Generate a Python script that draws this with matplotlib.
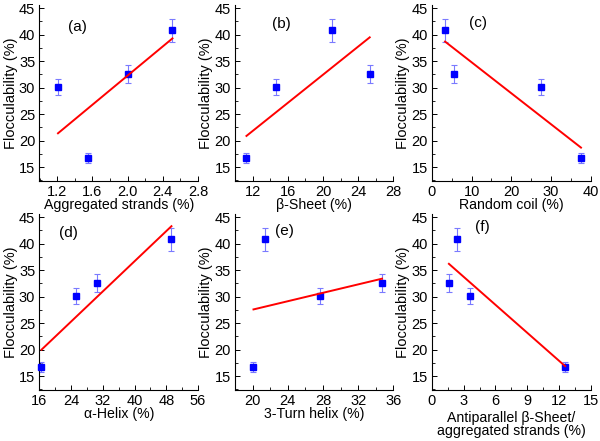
import matplotlib
matplotlib.use("Agg")
import matplotlib.pyplot as plt
from matplotlib.ticker import MultipleLocator, AutoMinorLocator

plt.rcParams['font.family'] = ['Liberation Sans', 'DejaVu Sans']

# flocculability of the four samples and its error
floc = [40.8, 32.6, 30.1, 16.7]
floc_err = [2.1, 1.7, 1.45, 0.9]

# secondary structure content (%) of the same four samples
aggregated = [2.51, 2.01, 1.21, 1.55]
beta_sheet = [21.0, 25.3, 14.7, 11.3]
random_coil = [3.3, 5.6, 27.6, 37.6]
alpha_helix = [49.3, 30.6, 25.1, 16.4]
turn_helix = [21.4, 34.7, 27.7, 20.1]
antiparallel = [2.4, 1.6, 3.6, 12.6]

# fitted lines as drawn: x range and y at both ends
fit_a = ([1.21, 2.51], [21.4, 39.3])
fit_b = ([11.3, 25.3], [20.9, 39.5])
fit_c = ([3.3, 37.6], [38.7, 18.7])
fit_d = ([16.5, 49.3], [20.0, 43.3])
fit_e = ([20.1, 34.7], [27.6, 33.4])
fit_f = ([1.6, 12.6], [36.2, 16.9])

panels = [
    ('(a)', aggregated, fit_a, 'Aggregated strands (%)', (1.0, 2.8), 0.4, (0.237, 0.875)),
    ('(b)', beta_sheet, fit_b, 'β-Sheet (%)', (10, 28), 4, (0.295, 0.892)),
    ('(c)', random_coil, fit_c, 'Random coil (%)', (0, 40), 10, (0.29, 0.898)),
    ('(d)', alpha_helix, fit_d, 'α-Helix (%)', (16, 56), 8, (0.18, 0.892)),
    ('(e)', turn_helix, fit_e, '3-Turn helix (%)', (18, 36), 4, (0.309, 0.903)),
    ('(f)', antiparallel, fit_f, 'Antiparallel β-Sheet/\naggregated strands (%)', (0, 15), 3, (0.315, 0.926)),
]

fig = plt.figure(figsize=(6.0, 4.41), dpi=100)
W, H = 600.0, 441.0
lefts = [39.5, 235, 432]
tops = [5, 214]
aw, ah = 158.5, 176

for i, (tag, xs, fit, xlabel, xlim, step, tagpos) in enumerate(panels):
    r, c = divmod(i, 3)
    ax = fig.add_axes([lefts[c] / W, 1 - (tops[r] + ah) / H, aw / W, ah / H])
    ax.errorbar(xs, floc, yerr=floc_err, fmt='none', ecolor='#7a7aff',
                elinewidth=0.8, capsize=2, capthick=0.8, zorder=2)
    ax.plot(xs, floc, 's', color='#0000ff', markersize=4.8, zorder=3,
            clip_on=False)
    ax.plot(fit[0], fit[1], color='#ff0000', linewidth=1.4, zorder=4)
    ax.set_xlim(*xlim)
    ax.set_ylim(12.4, 45.6)
    ax.xaxis.set_major_locator(MultipleLocator(step))
    ax.xaxis.set_minor_locator(AutoMinorLocator(2))
    ax.yaxis.set_major_locator(MultipleLocator(5))
    ax.yaxis.set_minor_locator(AutoMinorLocator(2))
    if step < 1:
        ax.xaxis.set_major_formatter(plt.FormatStrFormatter('%.1f'))
    ax.spines['top'].set_visible(False)
    ax.spines['right'].set_visible(False)
    for s in ('left', 'bottom'):
        ax.spines[s].set_linewidth(0.8)
    ax.tick_params(which='major', direction='in', length=3.5, width=0.7,
                   labelsize=10.5, pad=3)
    ax.tick_params(which='minor', direction='in', length=2, width=0.6)
    if '\n' in xlabel:
        ax.set_xlabel(xlabel, fontsize=10.2, labelpad=2, linespacing=0.95)
    else:
        ax.set_xlabel(xlabel, fontsize=10.2, labelpad=-1)
    ax.set_ylabel('Flocculability (%)', fontsize=10.5, labelpad=1)
    ax.text(tagpos[0], tagpos[1], tag, transform=ax.transAxes, fontsize=11,
            ha='center', va='center')

fig.savefig('out.png', dpi=100)
